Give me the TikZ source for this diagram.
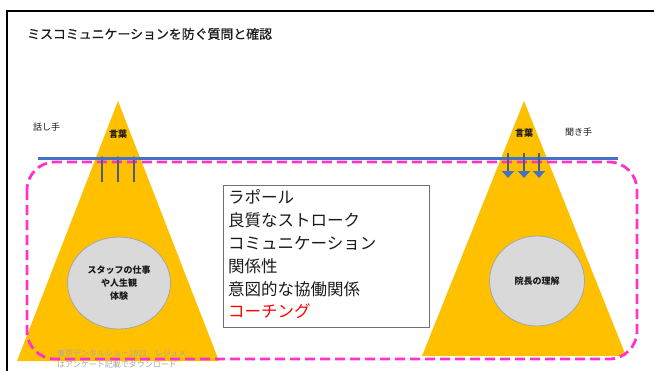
\documentclass[tikz,border=0pt]{standalone}
\usepackage{fontspec}
\setmainfont{Noto Sans CJK JP}
\newfontfamily\titlefont[FakeBold=0.6]{Noto Sans CJK JP}
\usetikzlibrary{arrows.meta,shapes.geometric}
\definecolor{cOrange}{HTML}{FFC000}
\definecolor{cPink}{HTML}{FF33CC}
\definecolor{cBlue}{HTML}{4472C4}
\definecolor{cShaft}{HTML}{4A5F80}
\definecolor{cCircle}{HTML}{D9D9D9}
\definecolor{cCircleB}{HTML}{A6A6A6}
\definecolor{cBoxB}{HTML}{707070}
\definecolor{cWater}{HTML}{A8A8A8}
\definecolor{cText}{HTML}{1A1A1A}
\tikzset{
  cjk/.style={inner sep=0pt, text height=.88em, text depth=.12em, text=cText},
  small/.style={cjk, font=\fontsize{9}{11}\selectfont},
  smallbold/.style={cjk, font=\fontsize{9}{11}\selectfont\bfseries},
  bubble/.style={ellipse, fill=cCircle, draw=cCircleB, line width=0.8pt, inner sep=0pt, align=center, font=\fontsize{9}{13}\selectfont\bfseries, text=cText},
  boxline/.style={cjk, anchor=west, font=\fontsize{16.5}{20}\selectfont},
  uparrow/.style={line width=2pt, draw=cShaft, -{Triangle[length=4pt,width=7pt,color=cBlue]}},
  downarrow/.style={line width=2.5pt, draw=cShaft, -{Triangle[length=7pt,width=12pt,color=cBlue]}},
  pinkdash/.style={draw=cPink, line width=2.8pt, dash pattern=on 10pt off 5pt, rounded corners=28pt},
  water/.style={inner sep=0pt, anchor=west, text=cWater, font=\fontsize{8}{10}\selectfont, text height=.88em, text depth=.12em}
}
\begin{document}
\begin{tikzpicture}[x=1pt,y=-1pt]
\useasboundingbox (0,0) rectangle (654,370);
\clip (0,0) rectangle (654,370);
\fill[white] (0,0) rectangle (654,370);
% frame
\draw[line width=2.6pt] (7,380) -- (7,11) -- (665,11);
% title
\node[cjk, anchor=west, font=\fontsize{12.9}{14}\titlefont] (title) at (27,35) {ミスコミュニケーションを防ぐ質問と確認};
% triangles
\fill[cOrange] (118,101) -- (219,361) -- (17,361) -- cycle;
\fill[cOrange] (524,101) -- (626,356) -- (422,356) -- cycle;
% circles
\node[bubble, minimum width=103pt, minimum height=92pt] (staff) at (119,283) {スタッフの仕事\\や人生観\\体験};
\node[bubble, minimum width=95pt, minimum height=90pt] (director) at (537,281) {院長の理解};
% pink dashed rounded rectangle
\draw[pinkdash] (27,162) rectangle (637,359);
% blue line
\coordinate (bl) at (38,158);
\coordinate (br) at (618,158);
\draw[cBlue, line width=3pt] (bl) -- (br);
% up arrows (speaker)
\coordinate (u1s) at (102,182); \coordinate (u1e) at (102,156);
\coordinate (u2s) at (118,182); \coordinate (u2e) at (118,156);
\coordinate (u3s) at (134,182); \coordinate (u3e) at (134,156);
\draw[uparrow] (u1s) -- (u1e);
\draw[uparrow] (u2s) -- (u2e);
\draw[uparrow] (u3s) -- (u3e);
% down arrows (listener)
\coordinate (d1s) at (508,153); \coordinate (d1e) at (508,178);
\coordinate (d2s) at (524,153); \coordinate (d2e) at (524,178);
\coordinate (d3s) at (539,153); \coordinate (d3e) at (539,178);
\draw[downarrow] (d1s) -- (d1e);
\draw[downarrow] (d2s) -- (d2e);
\draw[downarrow] (d3s) -- (d3e);
% labels
\node[small, anchor=west] (speaker) at (33,127) {話し手};
\node[small, anchor=west] (listener) at (565,132) {聞き手};
\node[smallbold] (wordL) at (118,134) {言葉};
\node[smallbold] (wordR) at (524,133) {言葉};
% text box
\node[draw=cBoxB, line width=1pt, fill=white, anchor=north west, minimum width=206pt, minimum height=142pt, inner sep=0pt] (box) at (223,185) {};
\node[boxline] (l1) at (228,200) {ラポール};
\node[boxline] (l2) at (228,222.5) {良質なストローク};
\node[boxline] (l3) at (228,245.5) {コミュニケーション};
\node[boxline] (l4) at (228,268.5) {関係性};
\node[boxline] (l5) at (228,291.5) {意図的な協働関係};
\node[boxline, text=red] (l6) at (228,314) {コーチング};
% watermark
\node[water] (wm1) at (57,353) {東京デンタルショー2022　レジュメ};
\node[water] (wm2) at (57,364) {はアンケート記載でダウンロード};
\end{tikzpicture}
\end{document}
